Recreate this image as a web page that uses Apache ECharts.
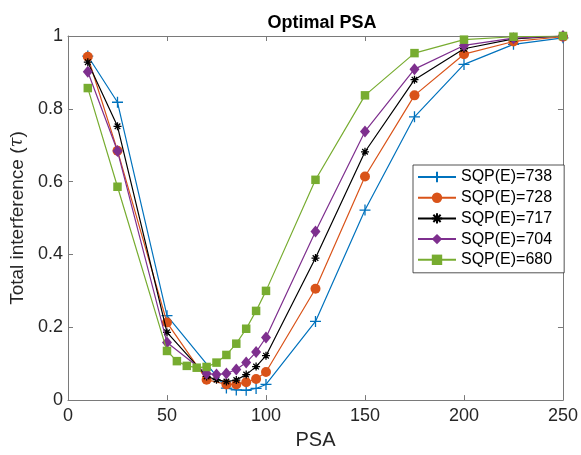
<!DOCTYPE html>
<html>
<head>
<meta charset="utf-8">
<script src="https://cdn.jsdelivr.net/npm/echarts@6/dist/echarts.min.js"></script>
<style>html,body{margin:0;padding:0;background:#fff}#c{width:581px;height:455px}</style>
</head>
<body>
<div id="c"></div>
<script>
// ---- data ----
const seriesNames = ['SQP(E)=738', 'SQP(E)=728', 'SQP(E)=717', 'SQP(E)=704', 'SQP(E)=680'];
const psa738 = [10, 25, 50, 80, 85, 90, 95, 100, 125, 150, 175, 200, 225, 250];
const tau738 = [0.945, 0.818, 0.232, 0.033, 0.028, 0.027, 0.032, 0.043, 0.216, 0.522, 0.778, 0.922, 0.977, 0.995];
const psa728 = [10, 25, 50, 70, 80, 85, 90, 95, 100, 125, 150, 175, 200, 225, 250];
const tau728 = [0.943, 0.685, 0.213, 0.056, 0.043, 0.043, 0.049, 0.058, 0.077, 0.306, 0.614, 0.837, 0.95, 0.985, 0.998];
const psa717 = [10, 25, 50, 70, 75, 80, 85, 90, 95, 100, 125, 150, 175, 200, 225, 250];
const tau717 = [0.928, 0.752, 0.186, 0.065, 0.056, 0.051, 0.055, 0.07, 0.092, 0.122, 0.39, 0.682, 0.88, 0.965, 0.992, 1.0];
const psa704 = [10, 25, 50, 70, 75, 80, 85, 90, 95, 100, 125, 150, 175, 200, 225, 250];
const tau704 = [0.902, 0.684, 0.158, 0.073, 0.07, 0.073, 0.084, 0.103, 0.132, 0.172, 0.463, 0.738, 0.909, 0.974, 0.994, 1.0];
const psa680 = [10, 25, 50, 55, 60, 65, 70, 75, 80, 85, 90, 95, 100, 125, 150, 175, 200, 225, 250];
const tau680 = [0.857, 0.586, 0.135, 0.107, 0.094, 0.089, 0.091, 0.103, 0.124, 0.155, 0.196, 0.245, 0.3, 0.605, 0.837, 0.953, 0.99, 0.998, 1.0];
const xTicks = [0, 50, 100, 150, 200, 250];
const yTicks = [0, 0.2, 0.4, 0.6, 0.8, 1];

const pairs = (xs, ys) => xs.map((x, i) => [x, ys[i]]);
const FONT = '"Liberation Sans", Arial, Helvetica, sans-serif';
const AX = '#262626';
const AXLINE = '#7a7a7a';

const plusPath = 'path://M0,5 L10,5 M5,0 L5,10';
const starPath = 'path://M0,5 L10,5 M5,0 L5,10 M1.5,1.5 L8.5,8.5 M8.5,1.5 L1.5,8.5';

const styles = [
  {color: '#0072BD', symbol: plusPath, size: 11, stroke: true},
  {color: '#D95319', symbol: 'circle', size: 10, stroke: false},
  {color: '#000000', symbol: starPath, size: 8, stroke: true},
  {color: '#7E2F8E', symbol: 'diamond', size: [10, 12], stroke: false},
  {color: '#77AC30', symbol: 'rect', size: 8.5, stroke: false}
];
const datasets = [pairs(psa738, tau738), pairs(psa728, tau728), pairs(psa717, tau717), pairs(psa704, tau704), pairs(psa680, tau680)];

const series = datasets.map((d, i) => {
  const s = styles[i];
  return {
    name: seriesNames[i],
    type: 'line',
    data: d,
    symbol: s.symbol,
    symbolSize: s.size,
    showAllSymbol: true,
    lineStyle: {color: s.color, width: 1.2},
    itemStyle: s.stroke
      ? {color: s.color, borderColor: s.color, borderWidth: 1.3}
      : {color: s.color, borderWidth: 0},
    emphasis: {disabled: true},
    animation: false,
    z: 2 + i
  };
});

const chart = echarts.init(document.getElementById('c'), null, {renderer: 'canvas'});
chart.setOption({
  backgroundColor: '#fff',
  animation: false,
  title: {
    text: 'Optimal PSA',
    left: 317, textAlign: 'center', top: 9,
    textStyle: {fontFamily: FONT, fontWeight: 'bold', fontSize: 18, color: '#000'}
  },
  grid: {left: 68, right: 14, top: 36, bottom: 53, containLabel: false},
  legend: {
    orient: 'vertical',
    left: 413, top: 165,
    padding: [4, 12, 5, 4],
    itemWidth: 38, itemHeight: 13, itemGap: 4.7,
    borderColor: '#262626', borderWidth: 0.8,
    backgroundColor: '#fff',
    textStyle: {fontFamily: FONT, fontSize: 16, lineHeight: 16, color: '#000'},
    data: seriesNames
  },
  xAxis: [{
    type: 'value', min: 0, max: 250, interval: 50,
    name: 'PSA', nameLocation: 'middle', nameGap: 22,
    nameTextStyle: {fontFamily: FONT, fontSize: 20, color: AX},
    axisLine: {show: true, onZero: false, lineStyle: {color: AXLINE, width: 1}},
    axisTick: {show: true, inside: true, length: 5, lineStyle: {color: AXLINE}},
    axisLabel: {fontFamily: FONT, fontSize: 18, color: AX, margin: 7},
    splitLine: {show: false}
  }, {
    type: 'value', min: 0, max: 250, interval: 50, position: 'top',
    axisLine: {show: true, onZero: false, lineStyle: {color: AXLINE, width: 1}},
    axisTick: {show: true, inside: true, length: 5, lineStyle: {color: AXLINE}},
    axisLabel: {show: false}, splitLine: {show: false}
  }],
  yAxis: [{
    type: 'value', min: 0, max: 1, interval: 0.2,
    name: 'Total interference ({t|\u03C4})', nameLocation: 'middle', nameGap: 39,
    nameTextStyle: {fontFamily: FONT, fontSize: 19, color: AX,
      rich: {t: {fontFamily: '"DejaVu Serif", serif', fontStyle: 'italic', fontSize: 18, color: AX}}},
    axisLine: {show: true, onZero: false, lineStyle: {color: AXLINE, width: 1}},
    axisTick: {show: true, inside: true, length: 5, lineStyle: {color: AXLINE}},
    axisLabel: {fontFamily: FONT, fontSize: 18, color: AX, margin: 5},
    splitLine: {show: false}
  }, {
    type: 'value', min: 0, max: 1, interval: 0.2, position: 'right',
    axisLine: {show: true, onZero: false, lineStyle: {color: AXLINE, width: 1}},
    axisTick: {show: true, inside: true, length: 5, lineStyle: {color: AXLINE}},
    axisLabel: {show: false}, splitLine: {show: false}
  }],
  series: series
});
</script>
</body>
</html>
